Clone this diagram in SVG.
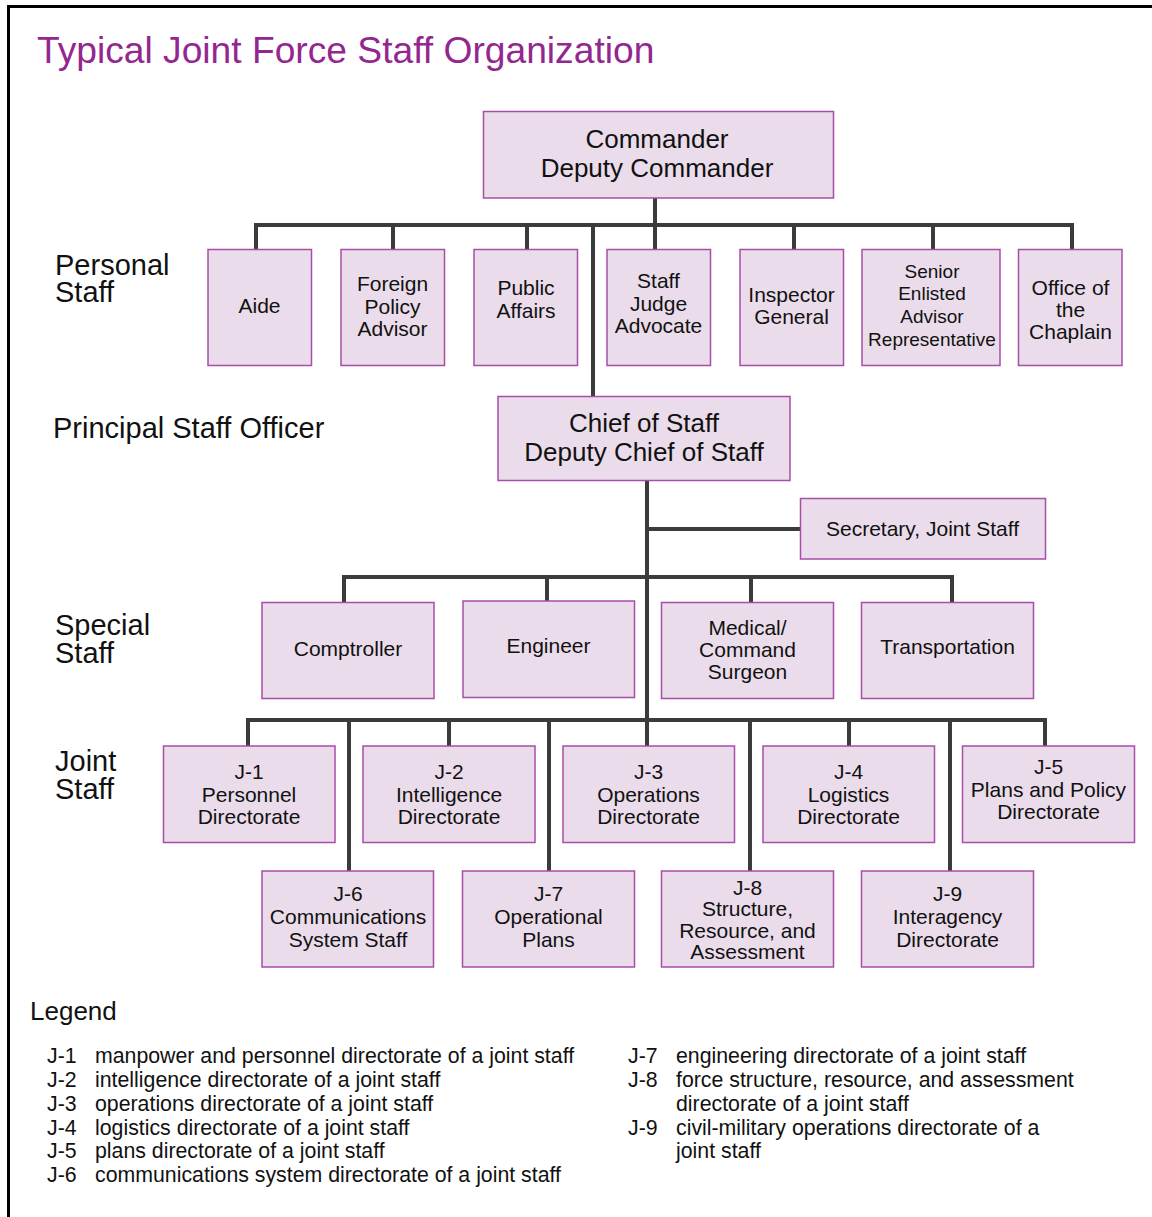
<svg xmlns="http://www.w3.org/2000/svg" width="1152" height="1217" viewBox="0 0 1152 1217">
<style>
text{font-family:"Liberation Sans",Arial,sans-serif;fill:#111;}
.box{fill:#eadcea;stroke:#a84ea8;stroke-width:1.5;}
.t21{font-size:21px;text-anchor:middle;}
.t19{font-size:19px;text-anchor:middle;}
.t26{font-size:26px;text-anchor:middle;}
.lab{font-size:29px;}
.leg{font-size:21.3px;}
.con{fill:none;stroke:#3b3b3b;stroke-width:4;stroke-linejoin:miter;stroke-linecap:butt;}
</style>
<rect x="0" y="0" width="1152" height="1217" fill="#ffffff"/>
<path d="M8.5,1217 V6.5 H1152" fill="none" stroke="#000" stroke-width="3"/>
<text x="37" y="63" style="font-size:37.2px;fill:#93278f">Typical Joint Force Staff Organization</text>

<g id="labels">
<text class="lab" x="55" y="275">Personal</text>
<text class="lab" x="55" y="302">Staff</text>
<text class="lab" x="53" y="438">Principal Staff Officer</text>
<text class="lab" x="55" y="635">Special</text>
<text class="lab" x="55" y="663">Staff</text>
<text class="lab" x="55" y="771">Joint</text>
<text class="lab" x="55" y="799">Staff</text>
</g>

<g id="connectors">
<path class="con" d="M655,198 V249"/>
<path class="con" d="M256,249 V225 H1072 V249"/>
<path class="con" d="M393,225 V249 M527,225 V249 M794,225 V249 M933,225 V249"/>
<path class="con" d="M593,225 V396"/>
<path class="con" d="M647,480 V746"/>
<path class="con" d="M647,529 H800"/>
<path class="con" d="M344,602 V577 H952 V602"/>
<path class="con" d="M547,577 V601 M751,577 V602"/>
<path class="con" d="M248,746 V720 H1045 V746"/>
<path class="con" d="M449,720 V746 M849,720 V746"/>
<path class="con" d="M349,720 V871 M549,720 V871 M750,720 V871 M950,720 V871"/>
</g>

<g id="commander">
<rect class="box" x="483.5" y="111.5" width="350" height="86.5"/>
<text class="t26" x="657" y="148">Commander</text>
<text class="t26" x="657" y="177">Deputy Commander</text>
</g>

<g id="aide">
<rect class="box" x="208" y="249.5" width="103.5" height="116"/>
<text class="t21" x="259.5" y="313">Aide</text>
</g>
<g id="foreign-policy-advisor">
<rect class="box" x="341" y="249.5" width="103.5" height="116"/>
<text class="t21" x="392.5" y="291">Foreign</text>
<text class="t21" x="392.5" y="313.5">Policy</text>
<text class="t21" x="392.5" y="336">Advisor</text>
</g>
<g id="public-affairs">
<rect class="box" x="474" y="249.5" width="103.5" height="116"/>
<text class="t21" x="526" y="295">Public</text>
<text class="t21" x="526" y="317.5">Affairs</text>
</g>
<g id="staff-judge-advocate">
<rect class="box" x="607" y="249.5" width="103.5" height="116"/>
<text class="t21" x="658.5" y="288">Staff</text>
<text class="t21" x="658.5" y="310.5">Judge</text>
<text class="t21" x="658.5" y="333">Advocate</text>
</g>
<g id="inspector-general">
<rect class="box" x="740" y="249.5" width="103.5" height="116"/>
<text class="t21" x="791.5" y="302">Inspector</text>
<text class="t21" x="791.5" y="323.5">General</text>
</g>
<g id="senior-enlisted-advisor">
<rect class="box" x="862" y="249.5" width="138" height="116"/>
<text class="t19" x="932" y="277.5">Senior</text>
<text class="t19" x="932" y="300">Enlisted</text>
<text class="t19" x="932" y="323">Advisor</text>
<text class="t19" x="932" y="345.5">Representative</text>
</g>
<g id="office-of-the-chaplain">
<rect class="box" x="1018.5" y="249.5" width="103.5" height="116"/>
<text class="t21" x="1070.5" y="294.5">Office of</text>
<text class="t21" x="1070.5" y="316.5">the</text>
<text class="t21" x="1070.5" y="339">Chaplain</text>
</g>

<g id="chief-of-staff">
<rect class="box" x="498" y="396.5" width="292" height="84"/>
<text class="t26" x="644" y="431.5">Chief of Staff</text>
<text class="t26" x="644" y="461">Deputy Chief of Staff</text>
</g>

<g id="secretary-joint-staff">
<rect class="box" x="800.5" y="498.5" width="245" height="60.5"/>
<text class="t21" x="922.5" y="535.5">Secretary, Joint Staff</text>
</g>

<g id="comptroller">
<rect class="box" x="262" y="602.5" width="172" height="96"/>
<text class="t21" x="348" y="656">Comptroller</text>
</g>
<g id="engineer">
<rect class="box" x="463" y="601" width="171.5" height="96.5"/>
<text class="t21" x="548.5" y="653">Engineer</text>
</g>
<g id="medical-command-surgeon">
<rect class="box" x="661.5" y="602.5" width="172" height="96"/>
<text class="t21" x="747.5" y="635">Medical/</text>
<text class="t21" x="747.5" y="657">Command</text>
<text class="t21" x="747.5" y="679">Surgeon</text>
</g>
<g id="transportation">
<rect class="box" x="861.5" y="602.5" width="172" height="96"/>
<text class="t21" x="947.5" y="654">Transportation</text>
</g>

<g id="j1">
<rect class="box" x="163.5" y="746" width="171.5" height="96.5"/>
<text class="t21" x="249" y="778.5">J-1</text>
<text class="t21" x="249" y="801.5">Personnel</text>
<text class="t21" x="249" y="824">Directorate</text>
</g>
<g id="j2">
<rect class="box" x="363" y="746" width="172" height="96.5"/>
<text class="t21" x="449" y="778.5">J-2</text>
<text class="t21" x="449" y="801.5">Intelligence</text>
<text class="t21" x="449" y="824">Directorate</text>
</g>
<g id="j3">
<rect class="box" x="563" y="746" width="171.5" height="96.5"/>
<text class="t21" x="648.5" y="778.5">J-3</text>
<text class="t21" x="648.5" y="801.5">Operations</text>
<text class="t21" x="648.5" y="824">Directorate</text>
</g>
<g id="j4">
<rect class="box" x="763" y="746" width="171.5" height="96.5"/>
<text class="t21" x="848.5" y="778.5">J-4</text>
<text class="t21" x="848.5" y="801.5">Logistics</text>
<text class="t21" x="848.5" y="824">Directorate</text>
</g>
<g id="j5">
<rect class="box" x="962.5" y="746" width="172" height="96.5"/>
<text class="t21" x="1048.5" y="773.5">J-5</text>
<text class="t21" x="1048.5" y="796.5">Plans and Policy</text>
<text class="t21" x="1048.5" y="818.5">Directorate</text>
</g>
<g id="j6">
<rect class="box" x="262" y="871" width="171.5" height="96"/>
<text class="t21" x="348" y="901">J-6</text>
<text class="t21" x="348" y="923.5">Communications</text>
<text class="t21" x="348" y="946.5">System Staff</text>
</g>
<g id="j7">
<rect class="box" x="462.5" y="871" width="172" height="96"/>
<text class="t21" x="548.5" y="901">J-7</text>
<text class="t21" x="548.5" y="923.5">Operational</text>
<text class="t21" x="548.5" y="946.5">Plans</text>
</g>
<g id="j8">
<rect class="box" x="661.5" y="871" width="172" height="96"/>
<text class="t21" x="747.5" y="894.5">J-8</text>
<text class="t21" x="747.5" y="916">Structure,</text>
<text class="t21" x="747.5" y="937.5">Resource, and</text>
<text class="t21" x="747.5" y="958.5">Assessment</text>
</g>
<g id="j9">
<rect class="box" x="861.5" y="871" width="172" height="96"/>
<text class="t21" x="947.5" y="901">J-9</text>
<text class="t21" x="947.5" y="924">Interagency</text>
<text class="t21" x="947.5" y="946.5">Directorate</text>
</g>

<g id="legend">
<text x="30" y="1020" style="font-size:26px">Legend</text>
<text class="leg" x="47" y="1063">J-1</text><text class="leg" x="95" y="1063">manpower and personnel directorate of a joint staff</text>
<text class="leg" x="47" y="1087">J-2</text><text class="leg" x="95" y="1087">intelligence directorate of a joint staff</text>
<text class="leg" x="47" y="1111">J-3</text><text class="leg" x="95" y="1111">operations directorate of a joint staff</text>
<text class="leg" x="47" y="1135">J-4</text><text class="leg" x="95" y="1135">logistics directorate of a joint staff</text>
<text class="leg" x="47" y="1158">J-5</text><text class="leg" x="95" y="1158">plans directorate of a joint staff</text>
<text class="leg" x="47" y="1182">J-6</text><text class="leg" x="95" y="1182">communications system directorate of a joint staff</text>
<text class="leg" x="628" y="1063">J-7</text><text class="leg" x="676" y="1063">engineering directorate of a joint staff</text>
<text class="leg" x="628" y="1087">J-8</text><text class="leg" x="676" y="1087">force structure, resource, and assessment</text>
<text class="leg" x="676" y="1111">directorate of a joint staff</text>
<text class="leg" x="628" y="1135">J-9</text><text class="leg" x="676" y="1135">civil-military operations directorate of a</text>
<text class="leg" x="676" y="1158">joint staff</text>
</g>
</svg>
